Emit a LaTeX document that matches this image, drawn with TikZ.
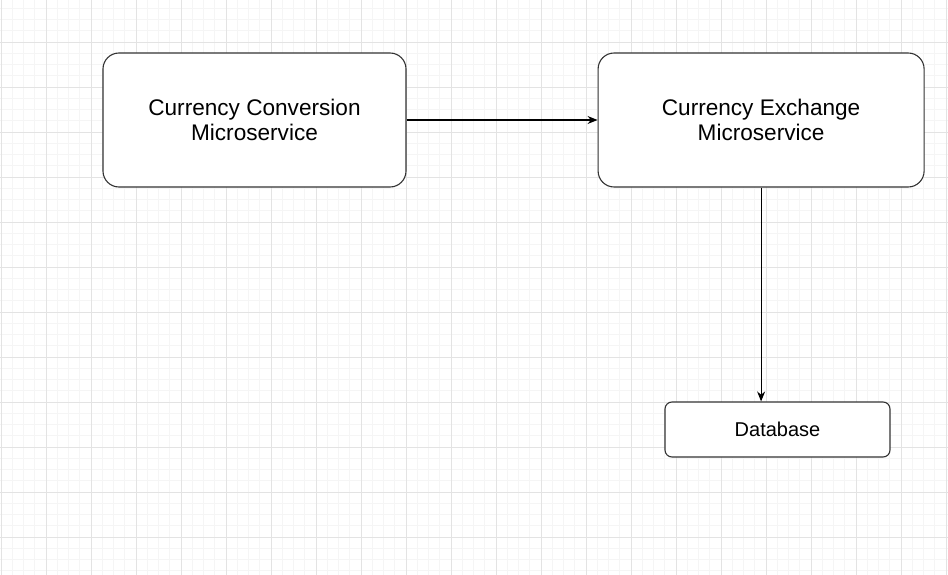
\documentclass[tikz,border=0pt]{standalone}
\usepackage{fontspec}
\setmainfont{Liberation Sans}
\usetikzlibrary{arrows.meta}
\usetikzlibrary{positioning}

\tikzset{
  service/.style={draw=black!80, line width=1.1pt, rounded corners=16pt, fill=white,
    align=center, minimum height=134pt, inner sep=0pt,
    font=\fontsize{22.6}{25.5}\selectfont},
  store/.style={draw=black!80, line width=1.1pt, rounded corners=7pt, fill=white,
    minimum width=225pt, minimum height=55pt, inner sep=0pt,
    font=\fontsize{20}{22}\selectfont},
  flow/.style={line width=1.1pt, -{Stealth[length=10pt,width=8pt]}}
}

\begin{document}
\begin{tikzpicture}[x=1pt, y=-1pt]
        \useasboundingbox (0,0) rectangle (948,575);
        % background grid
        \foreach \gx in {0,...,84}
          \draw[black!4, line width=0.7pt] (1+\gx*11.25,0) -- (1+\gx*11.25,575);
        \foreach \gy in {0,...,51}
          \draw[black!4, line width=0.7pt] (0,-3+\gy*11.25) -- (948,-3+\gy*11.25);
        \foreach \gx in {0,...,21}
          \draw[black!11, line width=0.7pt] (1+\gx*45,0) -- (1+\gx*45,575);
        \foreach \gy in {1,...,13}
          \draw[black!11, line width=0.7pt] (0,-3+\gy*45) -- (948,-3+\gy*45);

        \node[service, minimum width=303pt] (conv) at (254.5,120) {Currency Conversion\\Microservice};
        \node[service, minimum width=326pt, right=191pt of conv] (exch) {Currency Exchange\\Microservice};
        \node[store] (db) at (777.5,429.5) {Database};

        \draw[flow] (conv.east) -- (exch.west);
        \draw[flow] (exch.south) -- (exch.south |- db.north);
\end{tikzpicture}
\end{document}
